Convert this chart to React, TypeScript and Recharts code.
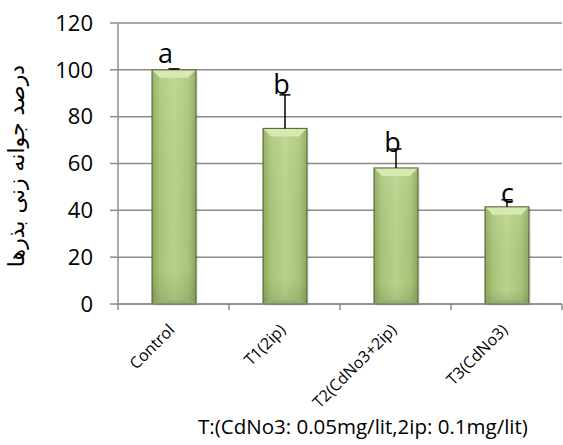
import React from "react";
import { ComposedChart, Bar, Scatter, XAxis, YAxis, CartesianGrid } from "recharts";

const categories = ["Control", "T1(2ip)", "T2(CdNo3+2ip)", "T3(CdNo3)"];
const germination = [100, 75, 58.1, 41.5];
const errorPlus = [0.4, 14.3, 8.1, 3];
const letters = ["a", "b", "b", "c"];
const letterLevel = [102.9, 89.7, 64.9, 43.1];
const yTicks = [0, 20, 40, 60, 80, 100, 120];
const yLabel = "درصد جوانه زنی بذرها";
const xTitle = "T:(CdNo3: 0.05mg/lit,2ip: 0.1mg/lit)";

const data = categories.map((c, i) => ({
  name: c,
  value: germination[i],
  err: errorPlus[i],
  letter: letters[i],
  letterPos: letterLevel[i],
}));

const FONT = "'Open Sans', sans-serif";

const BevelBar = (props: any) => {
  const { x, y, width, height, index } = props;
  if (width == null || height == null || height <= 0) return null;
  const id = `bevelGrad${index}`;
  const b = Math.min(8, height / 2);
  return (
    <g>
      <defs>
        <linearGradient id={id} x1="0" y1="0" x2="1" y2="0">
          <stop offset="0%" stopColor="#8fab5e" />
          <stop offset="18%" stopColor="#acc87c" />
          <stop offset="50%" stopColor="#bcd58e" />
          <stop offset="82%" stopColor="#acc87c" />
          <stop offset="100%" stopColor="#8fab5e" />
        </linearGradient>
        <linearGradient id={id + "v"} x1="0" y1="0" x2="0" y2="1">
          <stop offset="0%" stopColor="#ffffff" stopOpacity="0.08" />
          <stop offset="85%" stopColor="#000000" stopOpacity="0.02" />
          <stop offset="100%" stopColor="#000000" stopOpacity="0.12" />
        </linearGradient>
      </defs>
      <rect x={x + 2} y={y + 2} width={width} height={height} fill="#000" opacity={0.08} />
      <rect x={x} y={y} width={width} height={height} fill={`url(#${id})`} />
      <rect x={x} y={y} width={width} height={height} fill={`url(#${id + "v"})`} />
      <polygon
        points={`${x},${y} ${x + width},${y} ${x + width - b},${y + b} ${x + b},${y + b}`}
        fill="#d7e8b0"
      />
      <polygon
        points={`${x},${y + height} ${x + width},${y + height} ${x + width - 4},${y + height - 4} ${x + 4},${y + height - 4}`}
        fill="#94ae68"
        opacity={0.6}
      />
      <rect x={x} y={y} width={width} height={height} fill="none" stroke="#4b5d2c" strokeWidth={1} />
    </g>
  );
};

const ErrorLine = (props: any) => {
  const { x, y, width, height } = props;
  if (width == null || height == null) return null;
  const cx = x + width / 2;
  return (
    <g>
      <line x1={cx} y1={y + height} x2={cx} y2={y} stroke="#000" strokeWidth={1.5} />
      <line x1={cx - 5.5} y1={y} x2={cx + 5.5} y2={y} stroke="#000" strokeWidth={1.5} />
    </g>
  );
};

const LetterShape = (props: any) => {
  const { cx, cy, payload, index } = props;
  const dx = index === 0 ? -8 : index === 3 ? 1 : -3;
  return (
    <text x={cx + dx} y={cy} textAnchor="middle" fontFamily={FONT} fontSize={27} fill="#000">
      {payload.letter}
    </text>
  );
};

const XTick = (props: any) => {
  const { x, y, payload, index } = props;
  const half = 55.5;
  const ax = x + 2;
  const ay = y + 19;
  return (
    <g>
      <line x1={x - half} y1={y - 8} x2={x - half} y2={y - 2} stroke="#8c8c8c" strokeWidth={1.5} />
      {index === categories.length - 1 && (
        <line x1={x + half} y1={y - 8} x2={x + half} y2={y - 2} stroke="#8c8c8c" strokeWidth={1.5} />
      )}
      <text
        x={ax}
        y={ay}
        transform={`rotate(-45, ${ax}, ${ay})`}
        textAnchor="end"
        fontFamily={FONT}
        fontSize={16}
        fill="#000"
      >
        {payload.value}
      </text>
    </g>
  );
};

export default function App() {
  return (
    <div style={{ position: "absolute", left: 0, top: 0, width: 563, height: 445, background: "#fff" }}>
      <ComposedChart
        width={563}
        height={445}
        data={data}
        margin={{ top: 23, right: 1, bottom: 0, left: 0 }}
        barSize={44}
      >
        <CartesianGrid vertical={false} stroke="#8c8c8c" strokeWidth={1.5} />
        <XAxis
          dataKey="name"
          axisLine={{ stroke: "#8c8c8c", strokeWidth: 1.5 }}
          tickLine={false}
          tick={<XTick />}
          interval={0}
          height={141}
          label={{
            content: () => (
              <text x={363} y={434} textAnchor="middle" fontFamily={FONT} fontSize={20.5} fill="#000">
                {xTitle}
              </text>
            ),
          }}
        />
        <YAxis
          width={118}
          domain={[0, 120]}
          ticks={yTicks}
          interval={0}
          axisLine={{ stroke: "#8c8c8c", strokeWidth: 1.5 }}
          tickLine={{ stroke: "#8c8c8c", strokeWidth: 1.5 }}
          tickSize={8}
          tickMargin={17}
          tick={{ fontFamily: FONT, fontSize: 22, fill: "#000" }}
          label={{
            content: () => (
              <text
                x={24}
                y={166}
                transform="rotate(-90, 24, 166)"
                textAnchor="middle"
                fontFamily="'DejaVu Sans', sans-serif"
                fontSize={22}
                fill="#000"
              >
                {yLabel}
              </text>
            ),
          }}
        />
        <Bar dataKey="value" stackId="s" shape={<BevelBar />} isAnimationActive={false} />
        <Bar dataKey="err" stackId="s" shape={<ErrorLine />} isAnimationActive={false} />
        <Scatter dataKey="letterPos" shape={<LetterShape />} isAnimationActive={false} />
      </ComposedChart>
    </div>
  );
}
